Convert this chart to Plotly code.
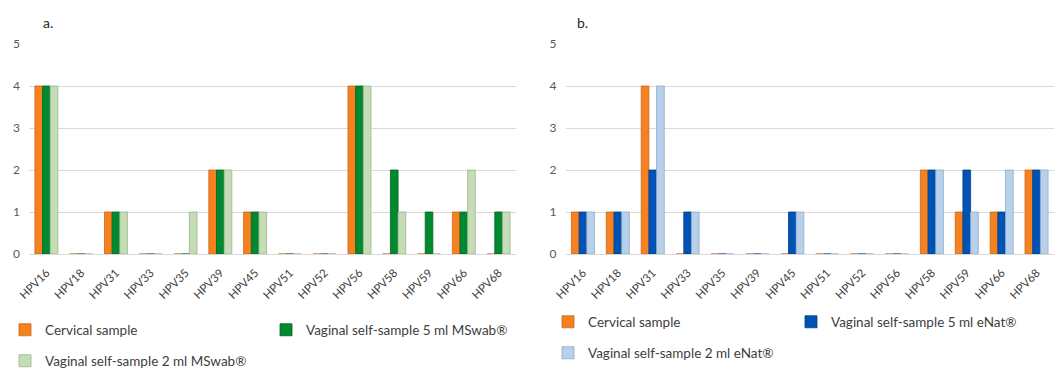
import plotly.graph_objects as go

categories = ["HPV16", "HPV18", "HPV31", "HPV33", "HPV35", "HPV39", "HPV45",
              "HPV51", "HPV52", "HPV56", "HPV58", "HPV59", "HPV66", "HPV68"]

# Panel a (MSwab)
a_cervical = [4, 0, 1, 0, 0, 2, 1, 0, 0, 4, 0, 0, 1, 0]
a_vag5 = [4, 0, 1, 0, 0, 2, 1, 0, 0, 4, 2, 1, 1, 1]
a_vag2 = [4, 0, 1, 0, 1, 2, 1, 0, 0, 4, 1, 0, 2, 1]

# Panel b (eNat)
b_cervical = [1, 1, 4, 0, 0, 0, 0, 0, 0, 0, 2, 1, 1, 2]
b_vag5 = [1, 1, 2, 1, 0, 0, 1, 0, 0, 0, 2, 2, 1, 2]
b_vag2 = [1, 1, 4, 1, 0, 0, 1, 0, 0, 0, 2, 1, 2, 2]

names_a = ["Cervical sample", "Vaginal self-sample 5 ml MSwab®", "Vaginal self-sample 2 ml MSwab®"]
names_b = ["Cervical sample", "Vaginal self-sample 5 ml eNat®", "Vaginal self-sample 2 ml eNat®"]

colors_a = ["#F5821F", "#00892F", "#C4DDB4"]
colors_b = ["#F5821F", "#0053B4", "#B7D1EC"]
edges_a = ["#C9661A", "#006622", "#9FB393"]
edges_b = ["#C9661A", "#003F88", "#93A9C0"]

W, H = 1056, 368
FONT = "Lato"

def px(x):
    return x / W

def py(y):
    return 1 - y / H

fig = go.Figure()

legend_pos = {
    "legend": (5, 330), "legend2": (266, 330), "legend3": (5, 361),
    "legend4": (548, 322), "legend5": (791, 322), "legend6": (548, 353),
}
lg_a = ["legend", "legend2", "legend3"]
lg_b = ["legend4", "legend5", "legend6"]

for vals, nm, c, e, lg in zip([a_cervical, a_vag5, a_vag2], names_a, colors_a, edges_a, lg_a):
    fig.add_trace(go.Bar(x=categories, y=vals, name=nm, marker=dict(color=c, line=dict(color=e, width=0.8)),
                         xaxis="x", yaxis="y", legend=lg))
for vals, nm, c, e, lg in zip([b_cervical, b_vag5, b_vag2], names_b, colors_b, edges_b, lg_b):
    fig.add_trace(go.Bar(x=categories, y=vals, name=nm, marker=dict(color=c, line=dict(color=e, width=0.8)),
                         xaxis="x2", yaxis="y2", legend=lg))

axis_common_y = dict(range=[0, 5], dtick=1, showgrid=True, gridcolor="#D9D9D9", gridwidth=1,
                     zeroline=True, zerolinecolor="#D9D9D9", zerolinewidth=1, showline=False,
                     tickfont=dict(family=FONT, size=12, color="#595959"), ticklabelstandoff=8,
                     domain=[py(254), py(44)], fixedrange=True, automargin=False)
axis_common_x = dict(type="category", showgrid=False, showline=False, zeroline=False, tickangle=-45,
                     tickfont=dict(family=FONT, size=11.5, color="#404040"), ticks="", fixedrange=True,
                     automargin=False, ticklabelstandoff=9)

layouts = {}
for name, (x, y) in legend_pos.items():
    layouts[name] = dict(x=px(x), y=py(y), xanchor="left", yanchor="middle", orientation="h",
                         font=dict(family=FONT, size=13.5, color="#404040"), bgcolor="rgba(0,0,0,0)",
                         borderwidth=0, itemclick=False, itemdoubleclick=False)

fig.update_layout(
    width=W, height=H,
    margin=dict(l=0, r=0, t=0, b=0, pad=0, autoexpand=False),
    paper_bgcolor="white", plot_bgcolor="white",
    barmode="group", bargap=0.34, bargroupgap=0,
    showlegend=True,
    xaxis=dict(axis_common_x, domain=[px(29), px(516)], anchor="y"),
    yaxis=dict(axis_common_y, anchor="x"),
    xaxis2=dict(axis_common_x, domain=[px(565.5), px(1054)], anchor="y2"),
    yaxis2=dict(axis_common_y, anchor="x2"),
    annotations=[
        dict(text="a.", x=px(41), y=py(22), xref="paper", yref="paper", xanchor="left", yanchor="middle",
             showarrow=False, font=dict(family=FONT, size=14, color="#262626")),
        dict(text="b.", x=px(575), y=py(22), xref="paper", yref="paper", xanchor="left", yanchor="middle",
             showarrow=False, font=dict(family=FONT, size=14, color="#262626")),
    ],
    **layouts,
)

fig.write_html("out.html", config={"displayModeBar": False},
               post_script="document.body.style.margin='0';document.body.style.overflow='hidden';")
